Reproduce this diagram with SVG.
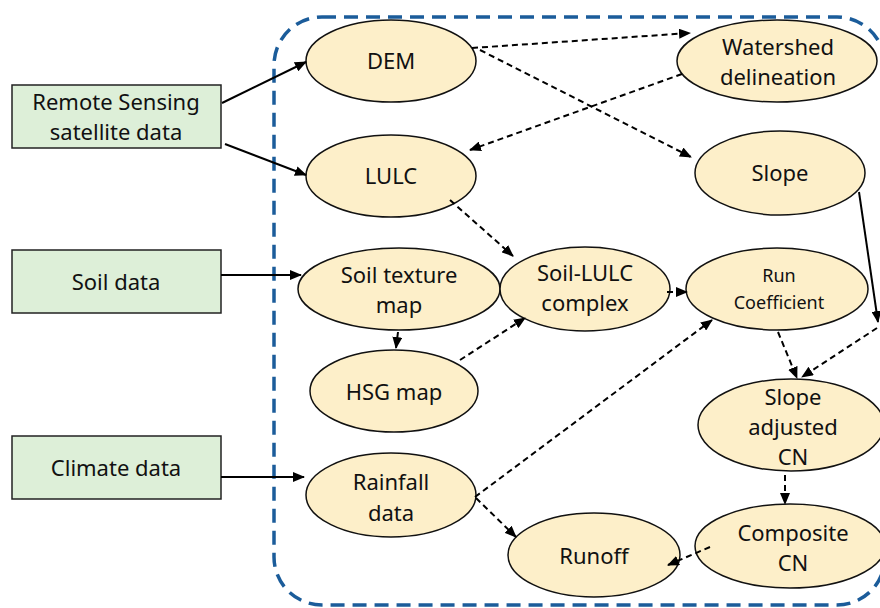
<svg xmlns="http://www.w3.org/2000/svg" width="880" height="608" viewBox="0 0 880 608">
<style>
text{font-family:"Noto Sans","Open Sans","Liberation Sans",sans-serif;font-size:22px;fill:#111;text-anchor:middle}
.box{fill:#DDEFD8;stroke:#222;stroke-width:1.5}
.ell{fill:#FDEFC9;stroke:#111;stroke-width:1.5}
.solid{stroke:#000;stroke-width:2;fill:none}
.dash{stroke:#000;stroke-width:2;fill:none;stroke-dasharray:6 4}
.small{font-size:18px}
</style>
<defs>
<marker id="ah" markerUnits="userSpaceOnUse" markerWidth="12" markerHeight="10" refX="11" refY="5" orient="auto">
<path d="M0,0 L12,5 L0,10 z" fill="#000"/>
</marker>
</defs>
<rect id="frame" x="274" y="17" width="611" height="588" rx="48" ry="48" fill="none" stroke="#1B5C9A" stroke-width="3.5" stroke-dasharray="14 8"/>

<g id="rs"><rect class="box" x="12" y="85" width="209" height="63"/><text x="116" y="110">Remote Sensing</text><text x="116" y="140">satellite data</text></g>
<g id="soil"><rect class="box" x="12" y="250" width="209" height="63"/><text x="116" y="290">Soil data</text></g>
<g id="climate"><rect class="box" x="12" y="436" width="209" height="63"/><text x="116" y="476">Climate data</text></g>

<g id="dem"><ellipse class="ell" cx="391" cy="61" rx="85" ry="41"/><text x="391" y="69">DEM</text></g>
<g id="lulc"><ellipse class="ell" cx="391" cy="176" rx="85" ry="41"/><text x="391" y="184">LULC</text></g>
<g id="watershed"><ellipse class="ell" cx="777" cy="61" rx="100" ry="41"/><text x="778" y="55">Watershed</text><text x="778" y="85">delineation</text></g>
<g id="slope"><ellipse class="ell" cx="780" cy="173" rx="85" ry="42"/><text x="780" y="181">Slope</text></g>
<g id="soiltex"><ellipse class="ell" cx="399" cy="289" rx="101" ry="41"/><text x="399" y="283">Soil texture</text><text x="399" y="313">map</text></g>
<g id="soillulc"><ellipse class="ell" cx="585" cy="289" rx="85" ry="42"/><text x="585" y="281">Soil-LULC</text><text x="585" y="311">complex</text></g>
<g id="runcoef"><ellipse class="ell" cx="777" cy="289" rx="91" ry="41"/><text class="small" x="779" y="282">Run</text><text class="small" x="779" y="309">Coefficient</text></g>
<g id="hsg"><ellipse class="ell" cx="394" cy="391" rx="84" ry="41"/><text x="394" y="400">HSG map</text></g>
<g id="slopecn"><ellipse class="ell" cx="791" cy="425" rx="93" ry="46"/><text x="793" y="405">Slope</text><text x="793" y="435">adjusted</text><text x="793" y="465">CN</text></g>
<g id="rainfall"><ellipse class="ell" cx="391" cy="495" rx="85" ry="42"/><text x="391" y="490">Rainfall</text><text x="391" y="521">data</text></g>
<g id="runoff"><ellipse class="ell" cx="594" cy="555" rx="86" ry="42"/><text x="594" y="564">Runoff</text></g>
<g id="composite"><ellipse class="ell" cx="790" cy="546" rx="95" ry="42"/><text x="793" y="541">Composite</text><text x="793" y="571">CN</text></g>

<g id="connectors">
<path class="solid" d="M222,103 L306,62" marker-end="url(#ah)"/>
<path class="solid" d="M225,144 L306,175" marker-end="url(#ah)"/>
<path class="solid" d="M221,275 L301,275" marker-end="url(#ah)"/>
<path class="solid" d="M221,477 L304,477" marker-end="url(#ah)"/>
<path class="solid" d="M859,192 L878,322" marker-end="url(#ah)"/>
<path class="dash" d="M877,328 L802,377" marker-end="url(#ah)"/>
<path class="dash" d="M472,48 L690,33" marker-end="url(#ah)"/>
<path class="dash" d="M480,50 L691,157" marker-end="url(#ah)"/>
<path class="dash" d="M682,74 L470,150" marker-end="url(#ah)"/>
<path class="dash" d="M450,200 L513,256" marker-end="url(#ah)"/>
<path class="dash" d="M667,292 L687,292" marker-end="url(#ah)"/>
<path class="dash" d="M398,332 L396,348" marker-end="url(#ah)"/>
<path class="dash" d="M460,360 L525,318" marker-end="url(#ah)"/>
<path class="dash" d="M475,497 L712,320" marker-end="url(#ah)"/>
<path class="dash" d="M476,498 L516,537" marker-end="url(#ah)"/>
<path class="dash" d="M778,332 L797,378" marker-end="url(#ah)"/>
<path class="dash" d="M785,475 L785,504" marker-end="url(#ah)"/>
<path class="dash" d="M710,547 L668,565" marker-end="url(#ah)"/>
</g>
</svg>
